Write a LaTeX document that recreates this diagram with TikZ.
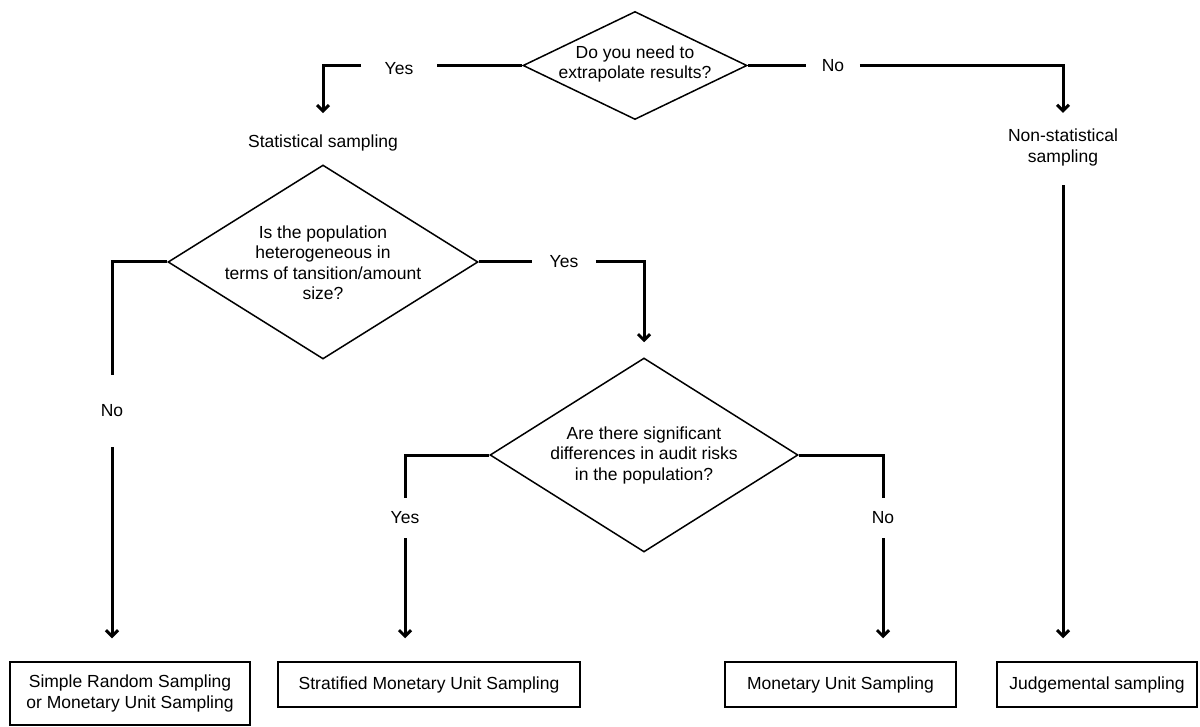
\documentclass[tikz,border=0pt]{standalone}
\usepackage{fontspec}
\setmainfont{Liberation Sans}
\usetikzlibrary{shapes.geometric,arrows.meta}
\begin{document}
\begin{tikzpicture}[x=1pt,y=-1pt,
  txt/.style={font=\fontsize{17.5}{20.5}\selectfont, align=center, inner sep=0pt},
  decision/.style={draw, diamond, line width=1.5pt, inner sep=0pt},
  outcome/.style={draw, rectangle, line width=1.5pt, txt},
  conn/.style={line width=3pt},
  arr/.style={conn, -{Straight Barb[length=6pt,width=12pt]}}
]
\useasboundingbox (0,0) rectangle (1200,727);

% decision diamonds and their questions
\node[decision, minimum width=224pt, minimum height=108pt] (d1) at (635,65.5) {};
\node[txt] (q1) at (635,64) {Do you need to\\extrapolate results?};
\node[decision, minimum width=310pt, minimum height=194pt] (d2) at (323,262) {};
\node[txt] (q2) at (323,262.5) {Is the population\\heterogeneous in\\terms of tansition/amount\\size?};
\node[decision, minimum width=308pt, minimum height=194pt] (d3) at (644,455) {};
\node[txt] (q3) at (644,455) {Are there significant\\differences in audit risks\\in the population?};

% intermediate results
\node[txt] (stat) at (323,142.5) {Statistical sampling};
\node[txt] (nonstat) at (1063,147.5) {Non-statistical\\sampling};

% final methods
\node[outcome, minimum width=240pt, minimum height=63pt] (b1) at (130,693.5) {Simple Random Sampling\\or Monetary Unit Sampling};
\node[outcome, minimum width=302pt, minimum height=45pt] (b2) at (429,684.5) {Stratified Monetary Unit Sampling};
\node[outcome, minimum width=231pt, minimum height=45pt] (b3) at (840.5,684.5) {Monetary Unit Sampling};
\node[outcome, minimum width=200pt, minimum height=45pt] (b4) at (1097,684.5) {Judgemental sampling};

% branch labels (their inner sep leaves the gap in the line)
\node[txt, inner xsep=23.5pt] (yes1) at (399,68.5) {Yes};
\node[txt, inner xsep=15.5pt] (no1) at (833,65.5) {No};
\node[txt, inner xsep=17.5pt] (yes2) at (564,262) {Yes};
\node[txt, inner ysep=30pt] (no2) at (112,411) {No};
\node[txt, inner ysep=14pt] (yes3) at (405,518) {Yes};
\node[txt, inner ysep=14pt] (no3) at (883,518) {No};

% connectors
\draw[conn] (d1.west) -- (d1.west -| yes1.east);
\draw[arr, shorten >=21pt] (yes1.west |- d1.west) -| (stat.north);
\draw[conn] (d1.east) -- (d1.east -| no1.west);
\draw[arr, shorten >=16pt] (no1.east |- d1.east) -| (nonstat.north);
\draw[arr, shorten <=19pt, shorten >=23pt] (nonstat.south) -- (nonstat.south |- b4.north);

\draw[conn] (d2.west) -| (no2.north);
\draw[arr, shorten >=23pt] (no2.south) -- (no2.south |- b1.north);
\draw[conn] (d2.east) -- (d2.east -| yes2.west);
\draw[arr, shorten >=15pt] (yes2.east |- d2.east) -| (d3.north);

\draw[conn] (d3.west) -| (yes3.north);
\draw[arr, shorten >=23pt] (yes3.south) -- (yes3.south |- b2.north);
\draw[conn] (d3.east) -| (no3.north);
\draw[arr, shorten >=23pt] (no3.south) -- (no3.south |- b3.north);
\end{tikzpicture}
\end{document}
